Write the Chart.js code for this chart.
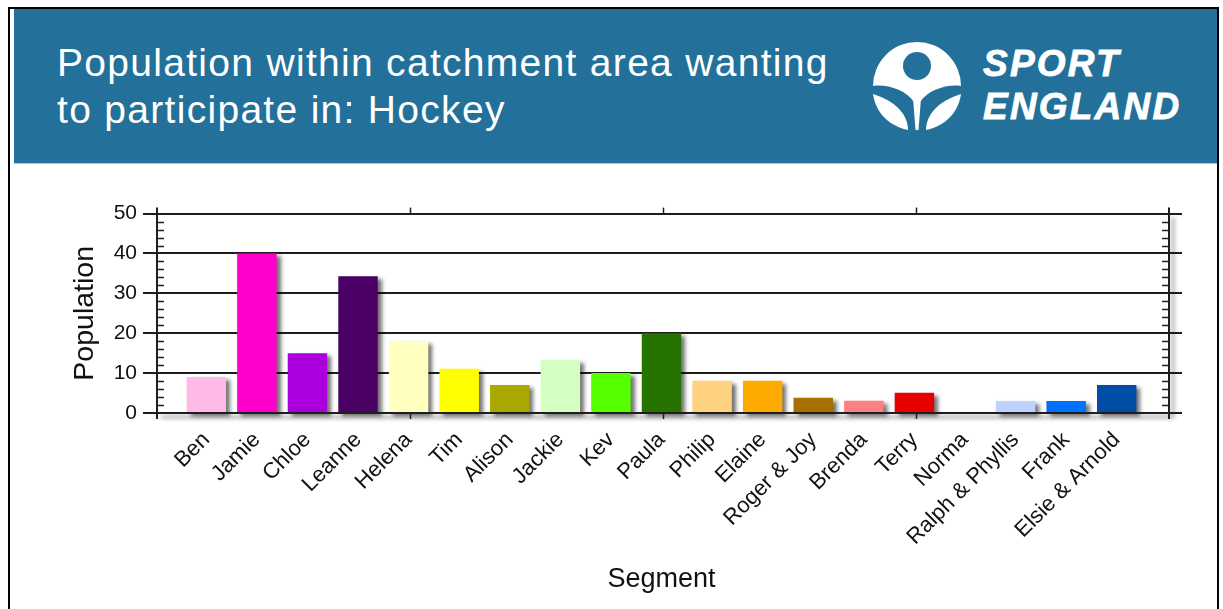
<!DOCTYPE html>
<html>
<head>
<meta charset="utf-8">
<script src="https://cdn.jsdelivr.net/npm/chart.js@4.4.1/dist/chart.umd.min.js"></script>
<style>
  html, body { margin: 0; padding: 0; background: #fff; width: 1223px; height: 609px; overflow: hidden; }
  body { font-family: "Liberation Sans", Arial, sans-serif; }
  #page {
    position: absolute; left: 8px; top: 7px; width: 1207px; height: 640px;
    border: 2px solid #000; border-bottom: none;
  }
  #header {
    position: absolute; left: 4px; top: 0; width: 1203px; height: 154px;
    background: #23719a; border-bottom: 1px solid #a3cde1;
  }
  #title {
    position: absolute; left: 43px; top: 30px;
    color: #fff; font-size: 39px; line-height: 47px; letter-spacing: 1.3px; white-space: nowrap;
  }
  #emblem { position: absolute; left: 858px; top: 29px; }
  #brand {
    position: absolute; left: 969px; top: 33px;
    color: #fff; font-size: 37px; line-height: 43px; font-weight: bold; font-style: italic;
    letter-spacing: 2.2px; -webkit-text-stroke: 0.8px #fff;
  }
  #chartBox { position: absolute; left: 0; top: 165px; width: 1223px; height: 444px; }
</style>
</head>
<body>
<div id="page">
  <div id="header">
    <div id="title">Population within catchment area wanting<br>to participate in: Hockey</div>
    <svg id="emblem" width="90" height="92" viewBox="0 0 90 92">
      <path fill="#fff" d="M1,48 A44,44 0 0 1 89,48 C75,46 56,52 48,64 L42,64 C34,52 15,46 1,48 Z"/>
      <circle cx="45" cy="28" r="14" fill="#23719a"/>
      <path fill="#fff" d="M41,60 L49,60 L46.5,92 L43.5,92 Z"/>
      <path fill="#fff" d="M1,56 C4,76 18,88 36,92 C36,77 24,63 1,56 Z"/>
      <path fill="#fff" d="M89,56 C86,76 72,88 54,92 C54,77 66,63 89,56 Z"/>
    </svg>
    <div id="brand">SPORT<br>ENGLAND</div>
  </div>
</div>
<div id="chartBox"><canvas id="chart" width="1223" height="444"></canvas></div>

<script>
// ---- data ----
const segments = ['Ben', 'Jamie', 'Chloe', 'Leanne', 'Helena', 'Tim', 'Alison', 'Jackie', 'Kev', 'Paula',
  'Philip', 'Elaine', 'Roger & Joy', 'Brenda', 'Terry', 'Norma', 'Ralph & Phyllis', 'Frank', 'Elsie & Arnold'];
const population = [9, 40, 15, 34.3, 18, 11.1, 7, 13.2, 10, 20, 8.1, 8.1, 3.8, 3.1, 5.1, 0, 3, 3, 7];
const barColors = ['#ffbbe6', '#ff00cc', '#aa00dd', '#4b0066', '#ffffc0', '#ffff00', '#a8a800', '#d4ffc0',
  '#55ff00', '#267300', '#ffd280', '#ffaa00', '#a87000', '#ff8080', '#e60000', '#cccccc', '#bed2ff',
  '#0070ff', '#004da8'];
const yTicks = [0, 10, 20, 30, 40, 50];
const yMinorStep = 2;

// frame sticks out past the category band on each side
const PAD_L = 24, PAD_R = 27;
const LINE = '#1e1e1e';

function hline(ctx, x1, x2, y) { ctx.beginPath(); ctx.moveTo(x1, y); ctx.lineTo(x2, y); ctx.stroke(); }
function vline(ctx, x, y1, y2) { ctx.beginPath(); ctx.moveTo(x, y1); ctx.lineTo(x, y2); ctx.stroke(); }

const framePlugin = {
  id: 'frame',
  beforeDatasetsDraw(chart) {
    const { ctx, chartArea: a, scales: { y } } = chart;
    const L = a.left - PAD_L, R = a.right + PAD_R;
    ctx.save();
    // soft shadow under the bottom axis and right of the right axis
    ctx.shadowColor = 'rgba(0,0,0,0.5)';
    ctx.shadowBlur = 4; ctx.shadowOffsetX = 4; ctx.shadowOffsetY = 4;
    ctx.strokeStyle = LINE; ctx.lineWidth = 2;
    ctx.beginPath(); ctx.moveTo(L, a.bottom); ctx.lineTo(R, a.bottom); ctx.lineTo(R, a.top); ctx.stroke();
    ctx.restore();

    ctx.save();
    ctx.strokeStyle = LINE; ctx.lineWidth = 2;
    yTicks.forEach(v => hline(ctx, L - 14, R + 13, Math.round(y.getPixelForValue(v))));
    ctx.lineWidth = 1.5;
    for (let v = yTicks[0]; v <= yTicks[yTicks.length - 1]; v += yMinorStep) {
      if (v % 10 === 0) continue;
      const py = Math.round(y.getPixelForValue(v)) + 0.5;
      hline(ctx, L, L + 7, py);
      hline(ctx, R - 7, R, py);
    }
    ctx.restore();
  },
  afterDatasetsDraw(chart) {
    const { ctx, chartArea: a, scales: { y } } = chart;
    const L = a.left - PAD_L, R = a.right + PAD_R;
    ctx.save();
    ctx.strokeStyle = LINE; ctx.lineWidth = 2;
    hline(ctx, L - 14, R + 13, Math.round(y.getPixelForValue(0)));
    vline(ctx, L, a.top - 6, a.bottom + 6);
    vline(ctx, R, a.top - 6, a.bottom + 6);
    ctx.lineWidth = 1.5;
    [0.25, 0.5, 0.75].forEach(f => {
      const px = Math.round(L + (R - L) * f) + 0.5;
      vline(ctx, px, a.top - 6, a.top);
      vline(ctx, px, a.bottom, a.bottom + 6);
    });
    ctx.restore();
  },
  beforeDatasetDraw(chart) {
    const ctx = chart.ctx;
    ctx.save();
    ctx.shadowColor = 'rgba(0,0,0,0.55)';
    ctx.shadowBlur = 4; ctx.shadowOffsetX = 4; ctx.shadowOffsetY = 3;
  },
  afterDatasetDraw(chart) {
    chart.ctx.restore();
  }
};

const FONT = "'Liberation Sans', Arial, sans-serif";

new Chart(document.getElementById('chart'), {
  type: 'bar',
  data: {
    labels: segments,
    datasets: [{
      data: population,
      backgroundColor: barColors,
      borderWidth: 0,
      barPercentage: 0.78,
      categoryPercentage: 1,
      clip: false
    }]
  },
  options: {
    responsive: false,
    animation: false,
    devicePixelRatio: 1,
    layout: { padding: { left: 60, right: 81, top: 35, bottom: 0 } },
    plugins: { legend: { display: false }, tooltip: { enabled: false } },
    scales: {
      x: {
        grid: { display: false }, border: { display: false },
        ticks: { autoSkip: false, minRotation: 45, maxRotation: 45, padding: 6, color: '#111', font: { family: FONT, size: 22 } },
        title: { display: true, text: 'Segment', color: '#111', font: { family: FONT, size: 27 }, padding: { top: 0, bottom: 13 } },
        afterFit: s => { s.height = 196; }
      },
      y: {
        min: 0, max: 50,
        grid: { display: false }, border: { display: false },
        ticks: { stepSize: 10, padding: 36, color: '#111', font: { family: FONT, size: 21 } },
        title: { display: true, text: 'Population', color: '#111', font: { family: FONT, size: 28.5 }, padding: { top: 8, bottom: 0 } },
        afterFit: s => { s.width = 121; }
      }
    }
  },
  plugins: [framePlugin]
});
</script>
</body>
</html>
